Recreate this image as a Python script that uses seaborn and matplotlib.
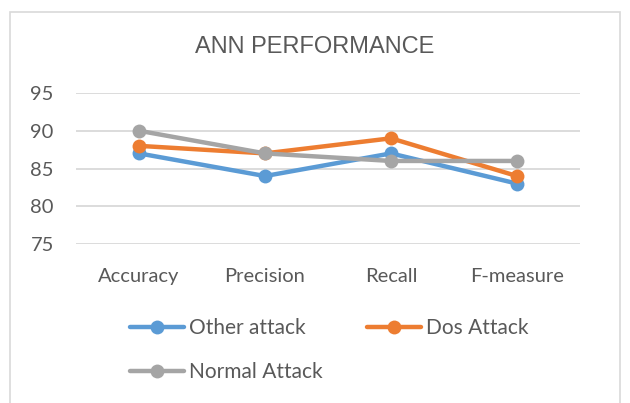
import matplotlib
matplotlib.use("Agg")
import matplotlib.pyplot as plt
import seaborn as sns
import pandas as pd
from matplotlib.patches import Rectangle
from matplotlib.lines import Line2D

categories = ["Accuracy", "Precision", "Recall", "F-measure"]
other_attack = [87, 84, 87, 83]
dos_attack = [88, 87, 89, 84]
normal_attack = [90, 87, 86, 86]
series_names = ["Other attack", "Dos Attack", "Normal Attack"]
colors = ["#5B9BD5", "#ED7D31", "#A5A5A5"]
yticks = [75, 80, 85, 90, 95]

rows = []
for name, vals in zip(series_names, [other_attack, dos_attack, normal_attack]):
    for c, v in zip(categories, vals):
        rows.append({"cat": c, "value": v, "series": name})
df = pd.DataFrame(rows)

sns.set_theme(style="white")
plt.rcParams["font.family"] = ["Lato", "DejaVu Sans"]

fig = plt.figure(figsize=(6.3, 4.03), dpi=100)
ax = fig.add_axes([76/630, 1-244/403, 504/630, 151/403])

sns.lineplot(data=df, x="cat", y="value", hue="series", hue_order=series_names,
             palette=colors, marker="o", markersize=10, markeredgewidth=0,
             linewidth=3.2, sort=False, ax=ax, legend=False)

ax.set_xlim(-0.5, 3.5)
ax.set_ylim(75, 95)
ax.set_yticks(yticks)
ax.set_xlabel("")
ax.set_ylabel("")
for s in ax.spines.values():
    s.set_visible(False)
ax.yaxis.grid(True, color="#D9D9D9", linewidth=1.3)
ax.set_axisbelow(True)
ax.tick_params(axis="both", length=0, labelsize=14.5, labelcolor="#595959")
ax.tick_params(axis="y", pad=16)
ax.tick_params(axis="x", pad=17)

fig.text(0.5, 1-47/403, "ANN PERFORMANCE", ha="center", va="center",
         fontsize=17, color="#595959", family=["Liberation Sans", "DejaVu Sans"])

# column-major fill: col1 = Other, Normal ; col2 = Dos
order = [0, 2, 1]
handles = [Line2D([0], [0], color=colors[i], lw=3.2, marker="o", markersize=10,
                  markeredgewidth=0) for i in order]
labels = [series_names[i] for i in order]
fig.legend(handles, labels, ncol=2, loc="upper left",
           bbox_to_anchor=(130/630, 1-318/403), frameon=False, fontsize=15,
           labelcolor="#595959", handlelength=2.6, handletextpad=0.25,
           columnspacing=2.1, labelspacing=1.15, borderpad=0, borderaxespad=0)

fig.patches.append(Rectangle((10/630, -0.01), 610/630, 1-12/403+0.01, transform=fig.transFigure,
                             fill=False, edgecolor="#D9D9D9", linewidth=1.2))

fig.savefig("out.png", dpi=100, facecolor="white")
